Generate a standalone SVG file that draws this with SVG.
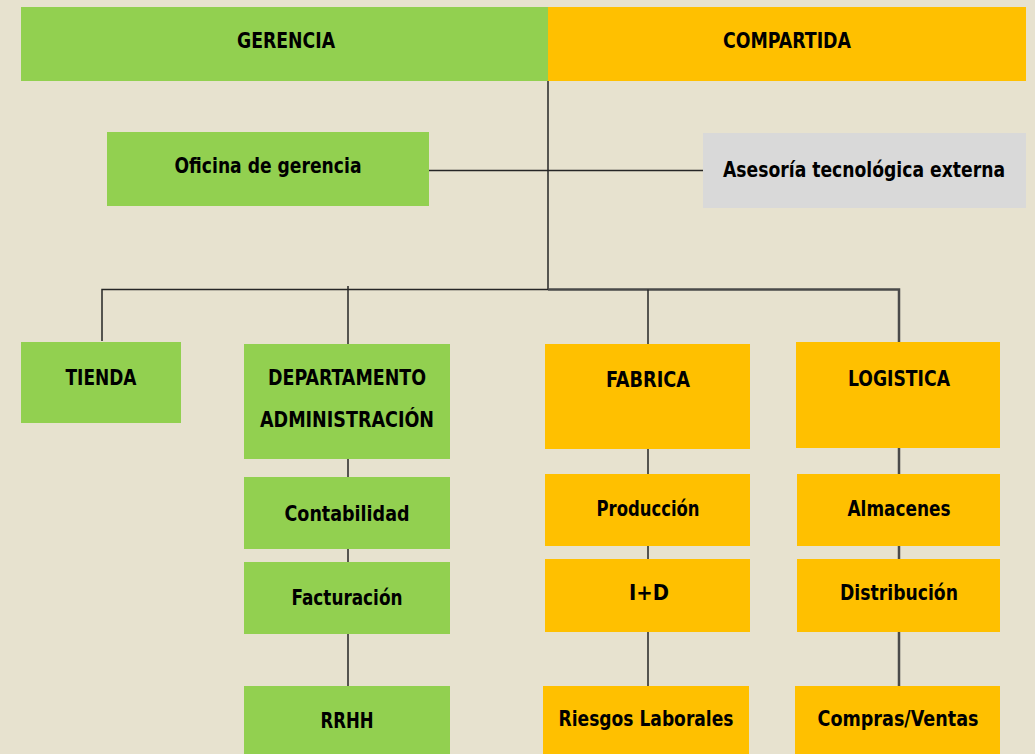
<svg xmlns="http://www.w3.org/2000/svg" width="1035" height="754" viewBox="0 0 1035 754">
<style>
.g{fill:#92D050}
.o{fill:#FFC000}
.s{fill:#D9D9D9}
text{font-family:"DejaVu Sans Condensed","Liberation Sans Narrow","Liberation Sans",sans-serif;font-weight:bold;font-size:22px;fill:#000;text-anchor:middle}
.ln{stroke:#262626;stroke-width:1.5;fill:none}
.lt{stroke:#4a4a4a;stroke-width:2.5;fill:none}
</style>
<rect width="1035" height="754" fill="#E7E2CF"/>
<g id="connectors">
<path class="ln" d="M548 81V290"/>
<path class="ln" d="M429 170.5H703"/>
<path class="ln" d="M102 341V289.5H548"/>
<path class="ln" d="M348 286V344"/>
<path class="lt" d="M548 289.5H899V342"/>
<path class="ln" d="M648 289.5V344"/>
<path class="ln" d="M348 459V477M348 549V562M348 634V686"/>
<path class="ln" d="M648 449V474M648 546V559M648 632V686"/>
<path class="lt" d="M899 448V474M899 546V559M899 632V686"/>
</g>
<g id="gerencia"><rect class="g" x="21" y="7" width="527" height="74"/><text x="286" y="48" style="font-size:21px" textLength="98" lengthAdjust="spacingAndGlyphs">GERENCIA</text></g>
<g id="compartida"><rect class="o" x="548" y="7" width="478" height="74"/><text x="787" y="48" style="font-size:21px" textLength="128" lengthAdjust="spacingAndGlyphs">COMPARTIDA</text></g>
<g id="oficina"><rect class="g" x="107" y="132" width="322" height="74"/><text x="268" y="173" textLength="187" lengthAdjust="spacingAndGlyphs">Oficina de gerencia</text></g>
<g id="asesoria"><rect class="s" x="703" y="133" width="323" height="75"/><text x="864" y="177" style="font-size:21px" textLength="282" lengthAdjust="spacingAndGlyphs">Asesoría tecnológica externa</text></g>
<g id="tienda"><rect class="g" x="21" y="342" width="160" height="81"/><text x="101" y="385" textLength="71" lengthAdjust="spacingAndGlyphs">TIENDA</text></g>
<g id="departamento"><rect class="g" x="244" y="344" width="206" height="115"/><text x="347" y="385" textLength="158" lengthAdjust="spacingAndGlyphs">DEPARTAMENTO</text><text x="347" y="427" textLength="174" lengthAdjust="spacingAndGlyphs">ADMINISTRACIÓN</text></g>
<g id="fabrica"><rect class="o" x="545" y="344" width="205" height="105"/><text x="648" y="387" textLength="84" lengthAdjust="spacingAndGlyphs">FABRICA</text></g>
<g id="logistica"><rect class="o" x="796" y="342" width="204" height="106"/><text x="899" y="386" textLength="102" lengthAdjust="spacingAndGlyphs">LOGISTICA</text></g>
<g id="contabilidad"><rect class="g" x="244" y="477" width="206" height="72"/><text x="347" y="521" textLength="125" lengthAdjust="spacingAndGlyphs">Contabilidad</text></g>
<g id="facturacion"><rect class="g" x="244" y="562" width="206" height="72"/><text x="347" y="605" textLength="111" lengthAdjust="spacingAndGlyphs">Facturación</text></g>
<g id="rrhh"><rect class="g" x="244" y="686" width="206" height="72"/><text x="347" y="728" textLength="53" lengthAdjust="spacingAndGlyphs">RRHH</text></g>
<g id="produccion"><rect class="o" x="545" y="474" width="205" height="72"/><text x="648" y="516" textLength="103" lengthAdjust="spacingAndGlyphs">Producción</text></g>
<g id="imasd"><rect class="o" x="545" y="559" width="205" height="73"/><text x="649" y="600" textLength="40" lengthAdjust="spacingAndGlyphs">I+D</text></g>
<g id="riesgos"><rect class="o" x="543" y="686" width="206" height="72"/><text x="646" y="726" textLength="175" lengthAdjust="spacingAndGlyphs">Riesgos Laborales</text></g>
<g id="almacenes"><rect class="o" x="797" y="474" width="203" height="72"/><text x="899" y="516" textLength="103" lengthAdjust="spacingAndGlyphs">Almacenes</text></g>
<g id="distribucion"><rect class="o" x="797" y="559" width="203" height="73"/><text x="899" y="600" textLength="118" lengthAdjust="spacingAndGlyphs">Distribución</text></g>
<g id="compras"><rect class="o" x="795" y="686" width="205" height="72"/><text x="898" y="726" textLength="161" lengthAdjust="spacingAndGlyphs">Compras/Ventas</text></g>
</svg>
